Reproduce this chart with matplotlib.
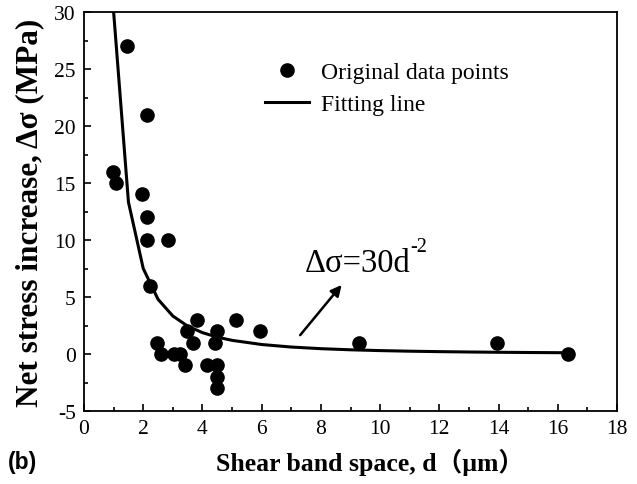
import numpy as np
import matplotlib
matplotlib.use("Agg")
import matplotlib.pyplot as plt
from matplotlib.ticker import MultipleLocator

plt.rcParams['font.family'] = ['Liberation Serif', 'DejaVu Serif']
plt.rcParams['axes.unicode_minus'] = False

# original data points
d_pts = [0.99, 1.07, 1.44, 1.95, 2.12, 2.12, 2.12, 2.85, 2.24, 2.48, 2.60,
         3.05, 3.24, 3.42, 3.47, 3.67, 3.83, 4.14, 4.43, 4.48, 4.48, 4.48,
         4.48, 5.12, 5.96, 9.27, 13.94, 16.36]
s_pts = [16, 15, 27, 14, 21, 12, 10, 10, 6, 1, 0,
         0, 0, -1, 2, 1, 3, -1, 1, 2, -1, -2,
         -3, 3, 2, 1, 1, 0]

# fitting line: d_sigma = 30 d^-2
fit_coef = 30
fit_d = [1.0, 1.5, 2.0, 2.5, 3.0, 3.5, 4.0, 4.5, 5.0, 6.0, 7.0, 8.0, 9.0,
         10.0, 11.0, 12.0, 13.0, 14.0, 15.0, 16.0, 16.4]
fit_s = [fit_coef / d ** 2 for d in fit_d]

x_ticks = [0, 2, 4, 6, 8, 10, 12, 14, 16, 18]
y_ticks = [-5, 0, 5, 10, 15, 20, 25, 30]

fig = plt.figure(figsize=(6.37, 4.85), dpi=100)
ax = fig.add_axes([0.1319, 0.1505, 0.8367, 0.8225])

ax.plot(d_pts, s_pts, 'o', color='black', markersize=9.5, label='Original data points')
ax.plot(fit_d, fit_s, '-', color='black', linewidth=2.2, label='Fitting line')

ax.set_xlim(0, 18)
ax.set_ylim(-5, 30)
ax.set_xticks(x_ticks)
ax.set_yticks(y_ticks)
ax.xaxis.set_minor_locator(MultipleLocator(1))
ax.yaxis.set_minor_locator(MultipleLocator(2.5))
ax.tick_params(which='both', direction='in', top=False, right=False,
               labelsize=15.5, width=1.2, pad=6)
ax.tick_params(which='major', length=5)
ax.tick_params(which='minor', length=3)
for sp in ax.spines.values():
    sp.set_linewidth(1.3)

ax.set_xlabel('Shear band space, d\uff08\u03bcm\uff09', fontsize=18.5, fontweight='bold',
              family=['Liberation Serif', 'Noto Sans CJK SC'], labelpad=7)
ax.xaxis.label.set_x(0.537)
ax.set_ylabel('Net stress increase, \u0394\u03c3 (MPa)', fontsize=22.5, fontweight='bold',
              labelpad=7)

leg = ax.legend(loc='upper left', bbox_to_anchor=(0.321, 0.90), frameon=False,
                fontsize=17, handlelength=1.9, handletextpad=0.5, labelspacing=0.45,
                borderaxespad=0)

t = ax.text(7.45, 8.0, '\u0394\u03c3=30d', fontsize=23.5, va='center', ha='left')
ax.annotate('-2', xy=(1.0, 0.72), xycoords=t, fontsize=14.5, va='bottom', ha='left')
ax.annotate('', xy=(8.76, 6.25), xytext=(7.24, 1.47),
            arrowprops=dict(arrowstyle='-|>', color='black', lw=1.8, mutation_scale=16))

fig.text(0.012, 0.033, '(b)', fontsize=16.5, fontweight='bold', family='Liberation Sans')

fig.savefig('out.png', dpi=100)
